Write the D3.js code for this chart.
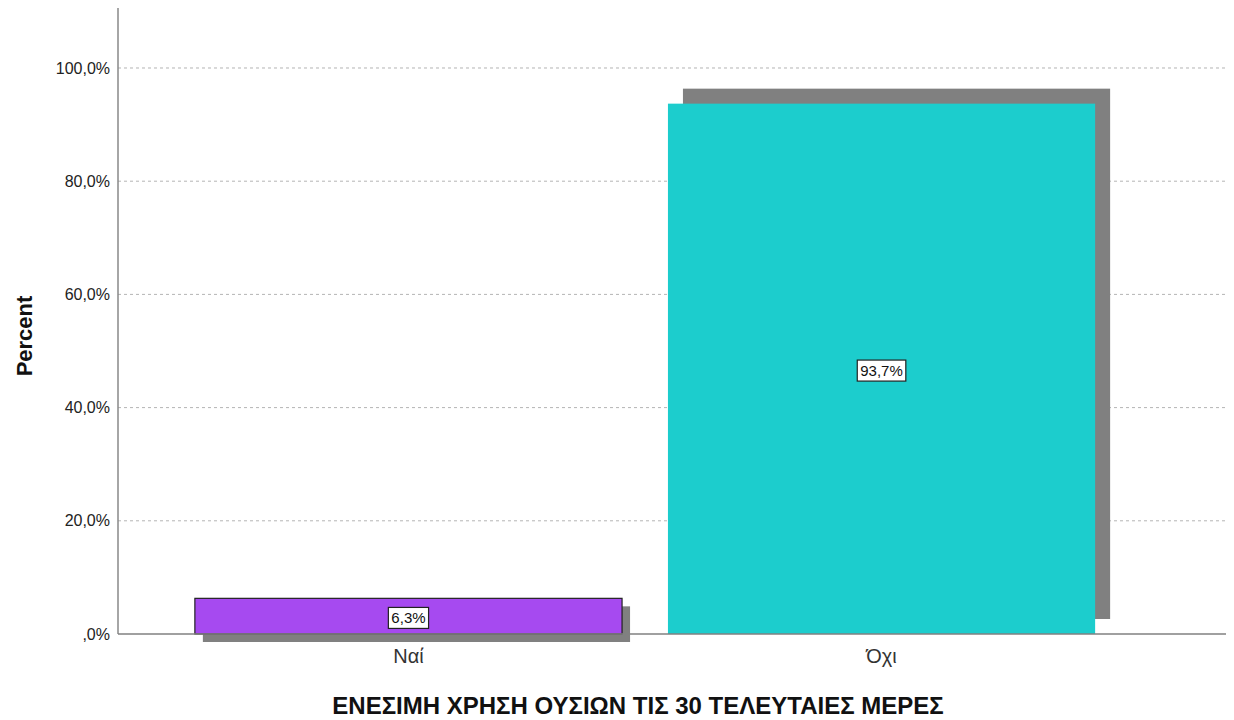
<!DOCTYPE html>
<html lang='el'>
<head>
  <meta charset='UTF-8'>
  <title>Ενέσιμη χρήση ουσιών</title>
  <script src='https://d3js.org/d3.v7.min.js'></script>
  <style>
    body { margin: 0; background: #fff; }
    svg { font-family: Arial, 'Liberation Sans', sans-serif; }
  </style>
</head>
<body>
<svg width='1234' height='720'></svg>
<script>
  // data
  const categories = ['Ναί', 'Όχι']
  const percents = [6.3, 93.7]
  const barColors = ['#a64af0', '#1ccdcd']
  const yTicks = [0, 20, 40, 60, 80, 100]

  const svg = d3.select('svg')
  const plotLeft = 118, plotRight = 1226, plotBottom = 634, plotTop = 8

  const x = d3.scaleBand()
    .domain(categories)
    .range([plotLeft, 1172])
    .paddingInner(0.097)
    .paddingOuter(0.1625)

  const y = d3.scaleLinear()
    .domain([0, 110.6])
    .range([plotBottom, plotTop])

  const fmt = d => d === 0 ? ',0%' : d.toFixed(1).replace('.', ',') + '%'

  // gridlines
  svg.append('g')
    .selectAll('line')
    .data(yTicks.filter(d => d > 0))
    .join('line')
      .attr('x1', plotLeft).attr('x2', plotRight)
      .attr('y1', d => y(d)).attr('y2', d => y(d))
      .attr('stroke', '#b4b4b4')
      .attr('stroke-dasharray', '3,3')

  // y axis
  const yAxis = svg.append('g')
    .attr('transform', `translate(${plotLeft},0)`)
    .call(d3.axisLeft(y).tickValues(yTicks).tickFormat(fmt).tickSize(0).tickPadding(8))
  yAxis.select('.domain').remove()
  yAxis.selectAll('text').attr('font-size', 16).attr('fill', '#222').attr('font-family', 'Arial, Liberation Sans, sans-serif')

  svg.append('line')
    .attr('x1', plotLeft).attr('x2', plotLeft)
    .attr('y1', plotTop).attr('y2', plotBottom)
    .attr('stroke', '#888').attr('stroke-width', 1.5)

  // shadows: SPSS-like offsets
  const shadowOffset = [[8, 8], [15, -15]]
  const bars = categories.map((c, i) => ({ c, v: percents[i], color: barColors[i], off: shadowOffset[i] }))

  svg.append('g')
    .selectAll('rect')
    .data(bars)
    .join('rect')
      .attr('x', d => x(d.c) + d.off[0])
      .attr('y', d => y(d.v) + d.off[1])
      .attr('width', x.bandwidth())
      .attr('height', d => y(0) - y(d.v))
      .attr('fill', '#808080')

  svg.append('g')
    .selectAll('rect')
    .data(bars)
    .join('rect')
      .attr('x', d => x(d.c))
      .attr('y', d => y(d.v))
      .attr('width', x.bandwidth())
      .attr('height', d => y(0) - y(d.v))
      .attr('fill', d => d.color)
      .attr('stroke', (d, i) => i === 0 ? '#222' : 'none')
      .attr('stroke-width', 1.2)

  // x axis
  svg.append('line')
    .attr('x1', plotLeft).attr('x2', plotRight)
    .attr('y1', plotBottom).attr('y2', plotBottom)
    .attr('stroke', '#808080').attr('stroke-width', 1.5)

  const xAxis = svg.append('g')
    .attr('transform', `translate(0,${plotBottom})`)
    .call(d3.axisBottom(x).tickSize(0).tickPadding(15))
  xAxis.select('.domain').remove()
  xAxis.selectAll('text').attr('font-size', 20).attr('fill', '#333').attr('font-family', 'Arial, Liberation Sans, sans-serif')

  // value labels
  const labels = svg.append('g')
    .selectAll('g')
    .data(bars)
    .join('g')
      .attr('transform', d => `translate(${x(d.c) + x.bandwidth() / 2},${(y(d.v) + y(0)) / 2 + 2})`)

  labels.append('text')
    .attr('text-anchor', 'middle')
    .attr('dy', '0.35em')
    .attr('font-size', 15)
    .attr('fill', '#111')
    .text(d => fmt(d.v))
    .each(function () {
      const b = this.getBBox()
      d3.select(this.parentNode).insert('rect', 'text')
        .attr('x', b.x - 3).attr('y', b.y - 2)
        .attr('width', b.width + 6).attr('height', b.height + 4)
        .attr('fill', '#fff').attr('stroke', '#222').attr('stroke-width', 1.2)
    })

  // titles
  svg.append('text')
    .attr('transform', `translate(32,${(plotTop + plotBottom) / 2 + 15}) rotate(-90)`)
    .attr('text-anchor', 'middle')
    .attr('font-size', 22).attr('font-weight', 'bold').attr('fill', '#111')
    .text('Percent')

  svg.append('text')
    .attr('x', 638).attr('y', 714)
    .attr('text-anchor', 'middle')
    .attr('font-size', 24).attr('font-weight', 'bold').attr('fill', '#111')
    .text('ΕΝΕΣΙΜΗ ΧΡΗΣΗ ΟΥΣΙΩΝ ΤΙΣ 30 ΤΕΛΕΥΤΑΙΕΣ ΜΕΡΕΣ')
</script>
</body>
</html>
